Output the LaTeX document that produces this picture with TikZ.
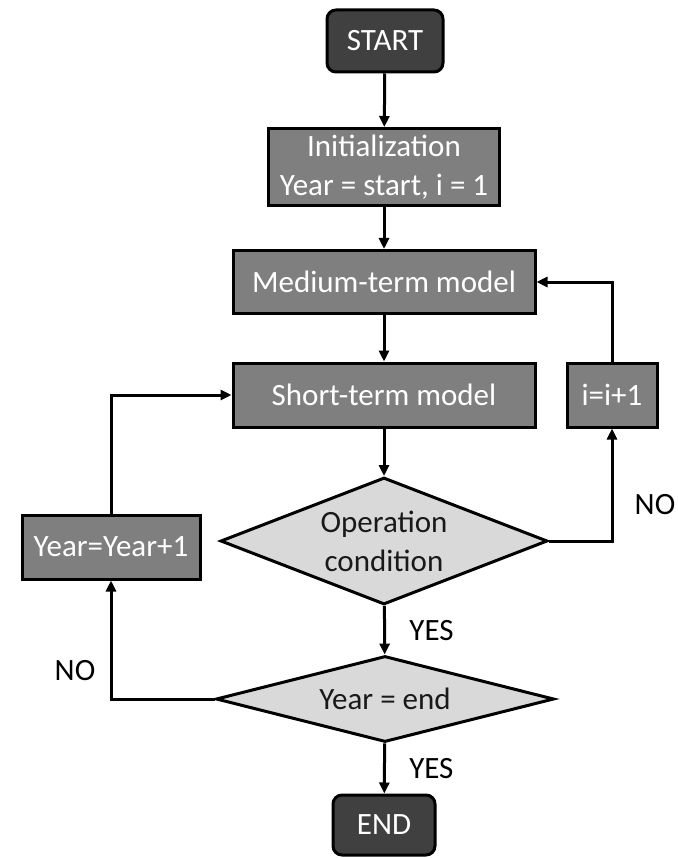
\documentclass[tikz,border=0pt]{standalone}
\usepackage{fontspec}
\setmainfont{Carlito}
\usepackage{tikz}
\usetikzlibrary{shapes.geometric,arrows.meta}

\definecolor{darkbox}{HTML}{404040}
\definecolor{midbox}{HTML}{7F7F7F}
\definecolor{lightbox}{HTML}{D9D9D9}

\begin{document}
\begin{tikzpicture}[x=1pt,y=1pt,line width=3pt,
    every node/.style={font=\fontsize{31}{39}\selectfont},
    term/.style={draw=black,fill=darkbox,text=white,rounded corners=9pt},
    proc/.style={draw=black,fill=midbox,text=white,align=center},
    test/.style={draw=black,fill=lightbox,text=black!90,diamond,inner sep=0pt,align=center},
    flow/.style={-{Triangle[length=11pt,width=10pt]}}]
      \useasboundingbox (0,0) rectangle (677,-858);
      \node[term,minimum width=116,minimum height=62] (start) at (385,-41) {START};
      \node[proc,minimum width=231,minimum height=77] (init) at (384,-167)
      {Initialization\\Year = start, i = 1};
      \node[proc,minimum width=302,minimum height=63] (medium) at (384,-282)
      {Medium-term model};
      \node[proc,minimum width=302,minimum height=64] (short) at (384,-395)
      {Short-term model};
      \node[proc,minimum width=90,minimum height=64] (incri) at (612,-395)
      {i=i+1};
      \node[test,aspect=2.57,minimum width=327,minimum height=127] (oper) at (384,-541)
      {Operation\\condition};
      \node[proc,minimum width=178,minimum height=64] (incyear) at (111,-547)
      {Year=Year+1};
      \node[test,aspect=3.93,minimum width=338,minimum height=86] (yearend) at (385,-699)
      {Year = end};
      \node[term,minimum width=102,minimum height=60] (end) at (384,-825) {END};
      \draw[flow] (start) -- (init);
      \draw[flow] (init) -- (medium);
      \draw[flow] (medium) -- (short);
      \draw[flow] (short) -- (oper);
      \draw[flow] (oper) -- node[right=20pt] (yes1) {YES} (yearend);
      \draw[flow] (yearend) -- node[right=20pt] (yes2) {YES} (end);
      \draw[flow] (oper.east) -| (incri.south);
      \draw[flow] (incri.north) |- (medium.east);
      \draw[flow] (yearend.west) -| (incyear.south);
      \draw[flow] (incyear.north) |- (short.west);
      \node (no1) at (655,-505) {NO};
      \node (no2) at (75,-671) {NO};
    \end{tikzpicture}
\end{document}
